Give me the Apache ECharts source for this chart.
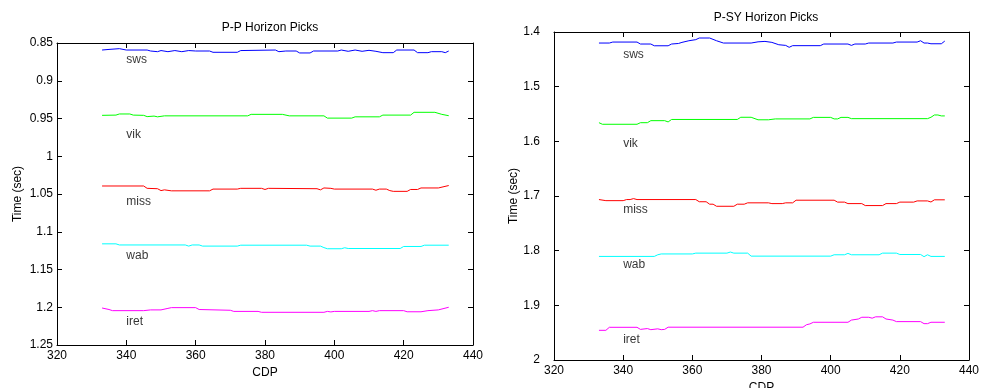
<!DOCTYPE html>
<html>
<head>
<meta charset="utf-8">
<script src="https://cdn.jsdelivr.net/npm/echarts@6/dist/echarts.min.js"></script>
<style>html,body{margin:0;padding:0;background:#fff}#c{width:982px;height:388px}</style>
</head>
<body>
<div id="c"></div>
<script>
// ---------- data ----------
const horizonNames = ['sws', 'vik', 'miss', 'wab', 'iret'];
const horizonColors = ['#0000ff', '#00ff00', '#ff0000', '#00ffff', '#ff00ff'];

// P-P horizon picks [CDP, time (s)]
const ppSws = [[333,0.8593],[335,0.8585],[338,0.8575],[340,0.8593],[346,0.8593],[347,0.8606],[349,0.8615],[350,0.8600],[352,0.8615],[354,0.8600],[356,0.8615],[358,0.8600],[360,0.8606],[364,0.8606],[365,0.8623],[372,0.8623],[373,0.8600],[383,0.8593],[384,0.8615],[386,0.8606],[389,0.8606],[390,0.8632],[393,0.8632],[394,0.8606],[401,0.8606],[402,0.8593],[404,0.8610],[406,0.8593],[408,0.8610],[410,0.8597],[412,0.8610],[414,0.8628],[417,0.8628],[418,0.8593],[423,0.8593],[424,0.8628],[427,0.8628],[428,0.8615],[431,0.8615],[432,0.8628],[433,0.8606]];
const ppVik = [[333,0.9458],[337,0.9455],[338,0.9440],[341,0.9440],[342,0.9455],[345,0.9458],[346,0.9475],[348,0.9468],[349,0.9478],[351,0.9465],[375,0.9465],[376,0.9445],[385,0.9445],[387,0.9465],[397,0.9465],[398,0.9495],[405,0.9495],[406,0.9478],[413,0.9478],[414,0.9455],[422,0.9455],[423,0.9418],[429,0.9418],[431,0.9445],[433,0.9463]];
const ppMiss = [[333,1.0394],[345,1.0394],[346,1.0425],[349,1.0430],[350,1.0455],[351,1.0445],[353,1.0458],[364,1.0458],[365,1.0435],[372,1.0435],[373,1.0425],[379,1.0425],[380,1.0440],[381,1.0425],[395,1.0430],[396,1.0445],[397,1.0420],[399,1.0425],[400,1.0435],[411,1.0435],[412,1.0450],[413,1.0435],[415,1.0435],[416,1.0455],[417,1.0465],[421,1.0465],[422,1.0440],[424,1.0440],[425,1.0420],[430,1.0420],[433,1.0388]];
const ppWab = [[333,1.1160],[337,1.1160],[338,1.1175],[357,1.1175],[358,1.1190],[359,1.1175],[361,1.1175],[362,1.1190],[372,1.1190],[373,1.1178],[392,1.1178],[393,1.1190],[396,1.1190],[397,1.1210],[398,1.1225],[402,1.1225],[403,1.1212],[404,1.1222],[419,1.1222],[420,1.1195],[425,1.1195],[426,1.1178],[433,1.1178]];
const ppIret = [[333,1.2010],[335,1.2030],[336,1.2045],[345,1.2045],[347,1.2035],[350,1.2035],[352,1.2015],[353,1.2005],[360,1.2005],[361,1.2030],[370,1.2040],[371,1.2055],[378,1.2055],[379,1.2067],[397,1.2067],[398,1.2055],[399,1.2062],[400,1.2055],[410,1.2055],[411,1.2045],[412,1.2055],[413,1.2045],[420,1.2045],[421,1.2060],[425,1.2060],[427,1.2045],[430,1.2035],[433,1.2000]];

// P-SY horizon picks [CDP, time (s)]
const psSws = [[333,1.4202],[336,1.4202],[337,1.4184],[344,1.4184],[345,1.4220],[348,1.4220],[349,1.4252],[353,1.4252],[354,1.4220],[356,1.4210],[357,1.4190],[359,1.4160],[361,1.4140],[362,1.4110],[365,1.4110],[367,1.4160],[369,1.4202],[377,1.4202],[379,1.4180],[381,1.4172],[383,1.4190],[385,1.4233],[387,1.4245],[388,1.4280],[389,1.4250],[397,1.4250],[398,1.4220],[405,1.4220],[406,1.4245],[407,1.4220],[410,1.4220],[411,1.4202],[418,1.4202],[419,1.4184],[425,1.4184],[426,1.4160],[427,1.4202],[428,1.4202],[429,1.4215],[432,1.4215],[433,1.4166]];
const psVik = [[333,1.5659],[334,1.5688],[344,1.5688],[345,1.5659],[347,1.5659],[348,1.5622],[352,1.5622],[353,1.5645],[354,1.5600],[373,1.5600],[374,1.5560],[377,1.5560],[379,1.5606],[382,1.5606],[384,1.5590],[394,1.5590],[395,1.5562],[400,1.5562],[401,1.5590],[402,1.5590],[403,1.5562],[405,1.5562],[406,1.5585],[428,1.5585],[429,1.5560],[430,1.5518],[431,1.5518],[432,1.5535],[433,1.5535]];
const psMiss = [[333,1.7065],[335,1.7085],[340,1.7085],[341,1.7065],[342,1.7065],[343,1.7048],[344,1.7065],[361,1.7065],[362,1.7105],[364,1.7105],[365,1.7150],[366,1.7150],[367,1.7188],[372,1.7188],[373,1.7150],[375,1.7150],[376,1.7125],[382,1.7125],[383,1.7139],[386,1.7139],[387,1.7125],[389,1.7125],[390,1.7077],[401,1.7077],[402,1.7112],[404,1.7112],[405,1.7139],[409,1.7139],[410,1.7175],[415,1.7175],[416,1.7139],[419,1.7139],[420,1.7112],[424,1.7112],[425,1.7090],[428,1.7090],[429,1.7110],[430,1.7070],[433,1.7070]];
const psWab = [[333,1.8105],[349,1.8105],[350,1.8075],[351,1.8060],[360,1.8060],[361,1.8045],[370,1.8045],[371,1.8025],[372,1.8045],[376,1.8045],[377,1.8100],[400,1.8100],[401,1.8075],[404,1.8075],[405,1.8050],[406,1.8075],[414,1.8075],[415,1.8045],[419,1.8045],[420,1.8070],[426,1.8070],[427,1.8110],[428,1.8075],[429,1.8105],[433,1.8105]];
const psIret = [[333,1.9457],[335,1.9457],[336,1.9402],[344,1.9402],[345,1.9440],[347,1.9425],[348,1.9445],[350,1.9430],[351,1.9445],[352,1.9440],[353,1.9400],[392,1.9400],[393,1.9355],[394,1.9340],[395,1.9310],[405,1.9310],[406,1.9270],[408,1.9250],[409,1.9218],[411,1.9218],[412,1.9235],[413,1.9210],[415,1.9210],[416,1.9250],[418,1.9270],[419,1.9298],[426,1.9298],[427,1.9335],[428,1.9335],[429,1.9310],[433,1.9310]];

// text label anchor positions
const labelCdp = 340;
const ppLabelTimes = [0.8725, 0.9719, 1.0607, 1.1320, 1.2196];
const psLabelTimes = [1.4417, 1.6037, 1.7243, 1.8250, 1.9630];

const titles = ['P-P Horizon Picks', 'P-SY Horizon Picks'];
const xName = 'CDP';
const yName = 'Time (sec)';

// ---------- chart ----------
const FONT = 'Liberation Sans, Arial, sans-serif';
const ppSeries = [ppSws, ppVik, ppMiss, ppWab, ppIret];
const psSeries = [psSws, psVik, psMiss, psWab, psIret];

const grids = [
  {left: 57, top: 43, width: 416, height: 302, containLabel: false, outerBoundsMode: 'none'},
  {left: 554, top: 32, width: 415, height: 328, containLabel: false, outerBoundsMode: 'none'}
];
const yRanges = [{min: 0.85, max: 1.25, interval: 0.05}, {min: 1.4, max: 2, interval: 0.1}];

const xAxes = [], yAxes = [];
[0, 1].forEach(g => {
  const lineStyle = {color: '#000', width: 1};
  xAxes.push({
    type: 'value', gridIndex: g, position: 'bottom', min: 320, max: 440, interval: 20,
    axisLine: {show: true, onZero: false, lineStyle},
    axisTick: {show: true, inside: true, length: 5, lineStyle},
    axisLabel: {color: '#000', fontSize: 12, fontFamily: FONT, margin: 5},
    splitLine: {show: false},
    name: xName, nameLocation: 'middle', nameGap: 16,
    nameTextStyle: {color: '#000', fontSize: 12, fontFamily: FONT}
  });
  xAxes.push({
    type: 'value', gridIndex: g, position: 'top', min: 320, max: 440, interval: 20,
    axisLine: {show: true, onZero: false, lineStyle},
    axisTick: {show: true, inside: true, length: 5, lineStyle},
    axisLabel: {show: false}, splitLine: {show: false}
  });
  const r = yRanges[g];
  yAxes.push({
    type: 'value', gridIndex: g, position: 'left', inverse: true, min: r.min, max: r.max, interval: r.interval,
    axisLine: {show: true, onZero: false, lineStyle},
    axisTick: {show: true, inside: true, length: 5, lineStyle},
    axisLabel: {color: '#000', fontSize: 12, fontFamily: FONT, margin: g === 0 ? 4 : 14},
    splitLine: {show: false},
    name: yName, nameLocation: 'middle', nameRotate: 90, nameGap: g === 0 ? 33 : 26,
    nameTextStyle: {color: '#000', fontSize: 12, fontFamily: FONT}
  });
  yAxes.push({
    type: 'value', gridIndex: g, position: 'right', inverse: true, min: r.min, max: r.max, interval: r.interval,
    axisLine: {show: true, onZero: false, lineStyle},
    axisTick: {show: true, inside: true, length: 5, lineStyle},
    axisLabel: {show: false}, splitLine: {show: false}
  });
});

const series = [];
[ppSeries, psSeries].forEach((set, g) => {
  set.forEach((data, i) => {
    series.push({
      type: 'line', name: horizonNames[i], xAxisIndex: g * 2, yAxisIndex: g * 2,
      data: data, showSymbol: false, symbol: 'none',
      lineStyle: {color: horizonColors[i], width: 1}, itemStyle: {color: horizonColors[i]},
      silent: true
    });
  });
  const lt = g === 0 ? ppLabelTimes : psLabelTimes;
  series.push({
    type: 'scatter', xAxisIndex: g * 2, yAxisIndex: g * 2, symbolSize: 0, silent: true,
    itemStyle: {color: '#000'},
    data: horizonNames.map((n, i) => ({value: [labelCdp, lt[i]], name: n})),
    label: {show: true, position: 'inside', align: 'left', verticalAlign: 'middle',
      formatter: p => p.name, color: '#000', textBorderWidth: 0, fontSize: 12, fontFamily: FONT}
  });
});

const chart = echarts.init(document.getElementById('c'), null, {renderer: 'canvas'});
chart.setOption({
  animation: false,
  backgroundColor: '#fff',
  title: [
    {text: titles[0], left: 265, top: 17, textAlign: 'center',
     textStyle: {color: '#000', fontSize: 12, fontWeight: 'normal', fontFamily: FONT}},
    {text: titles[1], left: 761, top: 7, textAlign: 'center',
     textStyle: {color: '#000', fontSize: 12, fontWeight: 'normal', fontFamily: FONT}}
  ],
  grid: grids,
  xAxis: xAxes,
  yAxis: yAxes,
  series: series
});
</script>
</body>
</html>
